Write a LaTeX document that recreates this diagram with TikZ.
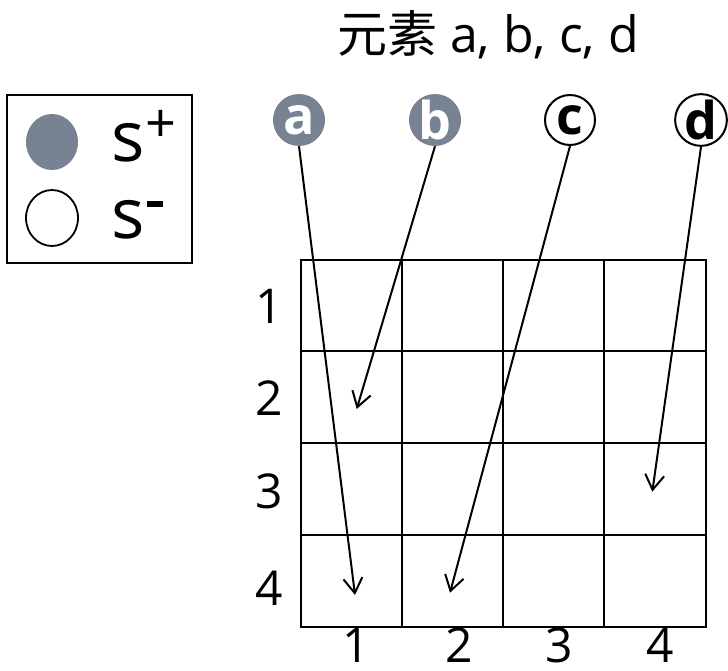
\documentclass[tikz,border=0pt]{standalone}
\usepackage{fontspec}
\setmainfont{Open Sans}
\newfontfamily\cjk{Noto Sans CJK SC}
\usetikzlibrary{arrows.meta,shapes.geometric}
\definecolor{slate}{RGB}{119,130,147}
\tikzset{
  gridline/.style={line width=2.2pt},
  elem/.style={circle,minimum size=52pt,inner sep=0pt,font=\fontsize{52}{54}\selectfont\bfseries},
  splus/.style={elem,fill=slate,text=white},
  sminus/.style={elem,draw,line width=2pt,text=black,minimum size=50pt},
  arr/.style={line width=2pt,-{Straight Barb[length=15pt,width=19pt]}},
  lbl/.style={font=\fontsize{48}{50}\selectfont,anchor=base,inner sep=0pt},
  legs/.style={font=\fontsize{70}{80}\selectfont,anchor=base,inner sep=0pt},
}
\begin{document}
\begin{tikzpicture}[x=1pt,y=-1pt]
\useasboundingbox (0,0) rectangle (728,671);
% title
\node[anchor=base west,inner sep=0pt,font=\fontsize{50}{60}\selectfont] (title) at (337,53) {{\cjk 元素} a, b, c, d};
% legend
\draw[line width=1.4pt] (7,95) rectangle (192,263);
\node[ellipse,fill=slate,minimum width=52pt,minimum height=56pt,inner sep=0pt] (legp) at (52,142) {};
\draw[line width=1.8pt] (52,218) ellipse [x radius=26, y radius=28];
\node[legs] (sp) at (128,161.7) {s};
\node[legs] (sm) at (128,238) {s};
\node[font=\fontsize{54}{60}\selectfont,inner sep=0pt] (pl) at (160.5,126) {+};
\fill (147,201.5) rectangle (163,207.5);
% element circles
\node[splus] (a) at (299,120) {a};
\node[splus] (b) at (435,120) {b};
\node[sminus] (c) at (570,120) {c};
\node[sminus] (d) at (701,120) {d};
% grid
\draw[gridline] (301,260) rectangle (705.7,626.7);
\foreach \x in {402.3,503.3,604.3} \draw[gridline] (\x,260) -- (\x,626.7);
\foreach \y in {351,442.7,535} \draw[gridline] (301,\y) -- (705.7,\y);
% row labels
\node[lbl] (r1) at (269,323.3) {1};
\node[lbl] (r2) at (269,415) {2};
\node[lbl] (r3) at (269,508) {3};
\node[lbl] (r4) at (269,605) {4};
% column labels
\node[lbl] (c1) at (356,662) {1};
\node[lbl] (c2) at (459,662) {2};
\node[lbl] (c3) at (559,662) {3};
\node[lbl] (c4) at (660,662) {4};
% arrow targets
\coordinate (ta) at (355,595);
\coordinate (tb) at (356.7,409);
\coordinate (tc) at (450,592.7);
\coordinate (td) at (652.3,491.7);
\draw[arr] (a.south) -- (ta);
\draw[arr] (b.south) -- (tb);
\draw[arr] (c.south) -- (tc);
\draw[arr] (d.south) -- (td);
\end{tikzpicture}
\end{document}
